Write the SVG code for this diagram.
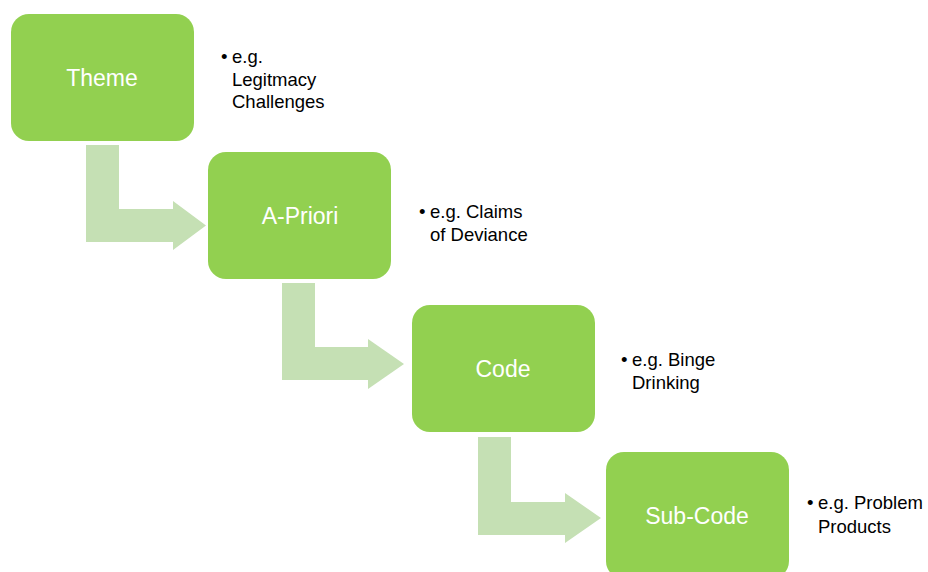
<svg xmlns="http://www.w3.org/2000/svg" width="928" height="572" viewBox="0 0 928 572">
<style>
.box{fill:#92D050}
.arr{fill:#C5E0B4}
.lbl{font-family:"Liberation Sans",Arial,sans-serif;font-size:23px;fill:#fff;text-anchor:middle}
.note{font-family:"Liberation Sans",Arial,sans-serif;font-size:18.5px;fill:#000}
</style>
<rect width="928" height="572" fill="#fff"/>
<g id="connectors">
<path class="arr" d="M86,145 H119 V209 H173 V201 L206,225.5 L173,250 V242 H86 Z"/>
<path class="arr" d="M282,283 H315 V347 H368 V339 L404,364 L368,389 V380 H282 Z"/>
<path class="arr" d="M478,437 H511 V502 H565 V493 L601,518 L565,543 V535 H478 Z"/>
</g>
<g id="theme">
<rect class="box" x="11" y="14" width="183" height="127" rx="18"/>
<text class="lbl" x="102" y="86">Theme</text>
<text class="note"><tspan x="221" y="63">•</tspan><tspan x="232" y="63">e.g.</tspan><tspan x="232" y="86">Legitmacy</tspan><tspan x="232" y="108">Challenges</tspan></text>
</g>
<g id="apriori">
<rect class="box" x="208" y="152" width="183" height="127" rx="18"/>
<text class="lbl" x="300" y="224">A-Priori</text>
<text class="note"><tspan x="419" y="218">•</tspan><tspan x="430" y="218">e.g. Claims</tspan><tspan x="430" y="241">of Deviance</tspan></text>
</g>
<g id="code">
<rect class="box" x="412" y="305" width="183" height="127" rx="18"/>
<text class="lbl" x="503" y="377">Code</text>
<text class="note"><tspan x="621" y="366">•</tspan><tspan x="632" y="366">e.g. Binge</tspan><tspan x="632" y="389">Drinking</tspan></text>
</g>
<g id="subcode">
<rect class="box" x="606" y="452" width="183" height="127" rx="18"/>
<text class="lbl" x="697" y="524">Sub-Code</text>
<text class="note"><tspan x="807" y="509">•</tspan><tspan x="818" y="509">e.g. Problem</tspan><tspan x="818" y="533">Products</tspan></text>
</g>
</svg>
